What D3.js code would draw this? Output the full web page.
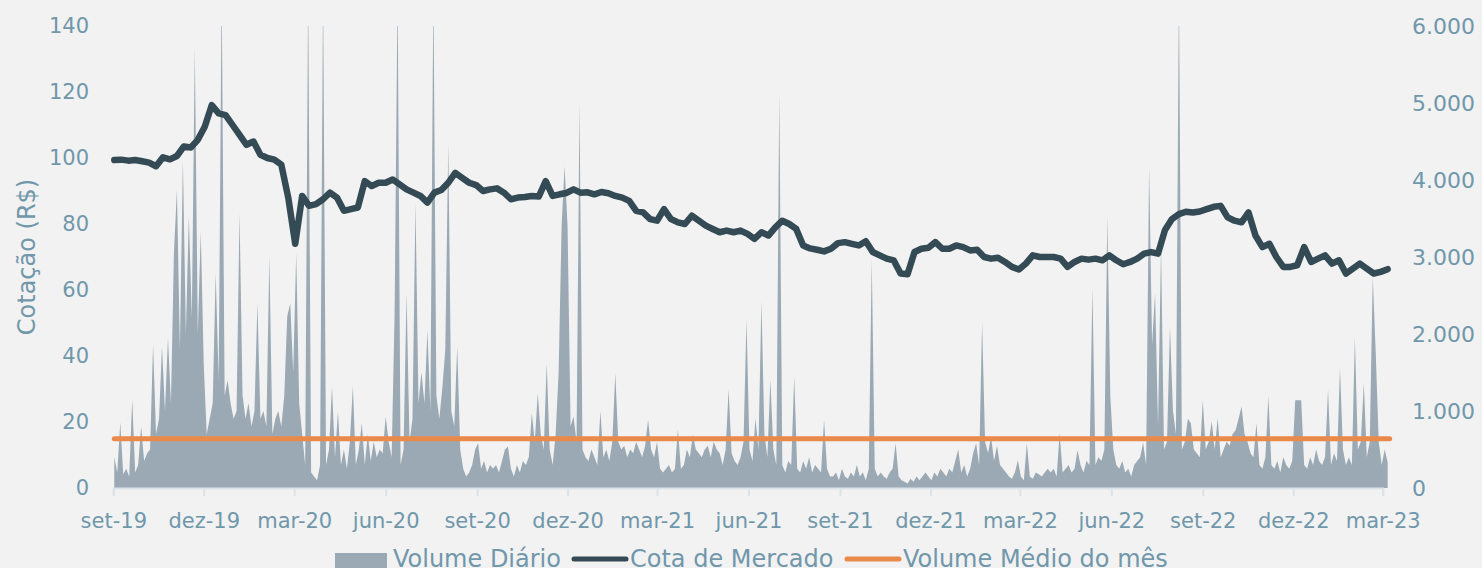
<!DOCTYPE html>
<html>
<head>
<meta charset="utf-8">
<script src="https://cdn.jsdelivr.net/npm/d3@7"></script>
<style>
  body { margin: 0; background: #f2f2f2; }
  svg { display: block; font-family: "DejaVu Sans", sans-serif; }
</style>
</head>
<body>
<div id="chart"></div>
<script>
// Cota de Mercado (R$), um valor por semana a partir de 02/09/2019
const cotaInicio = '2019-09-02';
const cota2019 = [99.4, 99.5, 99.2, 99.4, 99.0, 98.6, 97.5, 100.2, 99.6, 100.6, 103.5, 103.2, 105.5, 109.5, 116, 113.5, 113, 110];
const cota2020 = [107, 104, 105, 101, 100, 99.5, 98, 88, 74, 88.5, 85.5, 86, 87.5, 89.5, 88, 84, 84.5, 85, 93, 91.5,
  92.5, 92.5, 93.5, 92, 90.5, 89.5, 88.5, 86.5, 89.5, 90.3, 92.5, 95.5, 94, 92.5, 91.8, 90, 90.5, 90.8, 89.5, 87.5,
  88, 88.2, 88.5, 88.3, 93, 88.5, 89, 89.4, 90.5, 89.5, 89.6, 89];
const cota2021 = [89.7, 89.3, 88.5, 88, 87, 84, 83.5, 81.5, 81, 84.5, 81.5, 80.5, 80, 82.5, 81, 79.5, 78.5, 77.5, 78, 77.5,
  78, 77, 75.5, 77.5, 76.5, 79, 81, 80, 78.5, 73.5, 72.6, 72.2, 71.7, 72.5, 74.2, 74.5, 74, 73.5, 74.8, 71.5,
  70.5, 69.5, 69, 65, 64.8, 71.5, 72.5, 72.8, 74.5, 72.5, 72.5, 73.5];
const cota2022 = [73, 72, 72.2, 70, 69.5, 69.8, 68.5, 67, 66.2, 68, 70.5, 70, 70, 70, 69.5, 67, 68.5, 69.5, 69.2, 69.5,
  69, 70.5, 69, 67.8, 68.5, 69.5, 71, 71.5, 71, 78.2, 81.5, 83, 83.7, 83.5, 83.8, 84.5, 85.2, 85.5, 82, 81,
  80.5, 83.5, 76.5, 73, 74, 70, 67, 67, 67.5, 73, 68.5, 69.5];
const cota2023 = [70.5, 68, 69, 65, 66.5, 68, 66.5, 65, 65.5, 66.3];

// Volume Diário, um valor a cada 3 dias a partir de 02/09/2019
const volumeInicio = '2019-09-02';
const volumePasso = 3;
const volume2019 = [400, 200, 850, 180, 250, 150, 1150, 200, 300, 800,
  350, 450, 500, 1860, 700, 900, 1840, 1000, 1950, 1100,
  3050, 3875, 1800, 4265, 2000, 3530, 2200, 5715, 2000, 3330,
  1600, 700, 900, 1100, 2790, 1400, 6500, 1200, 1400, 1100,
  900];
const volume2020 = [1000, 3570, 1200, 900, 1100, 800, 1000, 2400, 900,
  1000, 800, 3010, 700, 900, 1000, 800, 1200, 2230, 2400,
  1500, 3050, 1100, 700, 300, 6500, 200, 150, 100, 300,
  6500, 300, 500, 1320, 400, 995, 300, 500, 250, 600,
  1320, 300, 500, 840, 300, 700, 350, 600, 400, 500,
  450, 930, 600, 400, 2270, 6500, 300, 500, 2530, 600,
  900, 3700, 1100, 1500, 1100, 2050, 1000, 6500, 1200, 900,
  1300, 1800, 4480, 1000, 800, 1840, 500, 250, 150, 200,
  300, 500, 580, 250, 350, 200, 300, 250, 300, 200,
  350, 500, 540, 250, 150, 300, 200, 350, 300, 400,
  970, 600, 1230, 700, 500, 1620, 500, 300, 700, 1500,
  3400, 4180, 3400, 800, 930, 600, 5000, 500, 400, 350,
  500, 400, 300];
const volume2021 = [1000, 400, 500, 350, 600, 1490, 600,
  500, 550, 400, 500, 450, 600, 500, 400, 550, 885,
  500, 400, 600, 250, 200, 250, 300, 200, 250, 755,
  250, 300, 500, 400, 690, 500, 450, 400, 500, 550,
  400, 600, 500, 450, 300, 500, 1280, 450, 350, 300,
  400, 600, 2190, 500, 350, 900, 500, 2425, 700, 400,
  1410, 500, 300, 5130, 300, 200, 350, 300, 1450, 250,
  200, 350, 250, 400, 200, 300, 250, 200, 885, 250,
  150, 150, 200, 100, 250, 150, 120, 200, 150, 300,
  150, 200, 100, 250, 2965, 250, 150, 200, 150, 120,
  200, 250, 580, 150, 100, 80, 60, 120, 80, 150,
  100, 150, 200, 150, 100, 200, 150, 250, 200, 150,
  250, 200, 350, 500];
const volume2022 = [200, 300, 150, 250, 450, 580,
  300, 2145, 600, 450, 670, 350, 550, 300, 250, 200,
  150, 120, 200, 360, 150, 100, 580, 150, 120, 200,
  180, 150, 200, 250, 200, 250, 150, 710, 200, 250,
  300, 200, 250, 490, 300, 200, 350, 300, 2600, 300,
  400, 350, 500, 3525, 1186, 500, 300, 250, 350, 200,
  250, 150, 300, 350, 400, 590, 300, 4170, 1870, 2525,
  800, 3130, 500, 600, 2090, 1000, 700, 6500, 500, 600,
  900, 840, 500, 450, 400, 1140, 500, 600, 865, 500,
  910, 400, 500, 600, 550, 700, 750, 900, 1060, 700,
  600, 450, 400, 840, 300, 250, 400, 1190, 300, 250,
  350, 200, 400, 300, 250, 350, 1140, 1140, 1140, 300,
  250, 400, 300, 500, 350, 300];
const volume2023 = [400, 1275, 300, 450,
  350, 1560, 500, 300, 400, 300, 1950, 500, 600, 1360,
  400, 600, 2750, 1750, 600, 300, 500, 330];

// Volume Médio do mês
const volumeMedioDatas = ['2019-09-02', '2023-03-08'];
const volumeMedioValores = [640, 640];

// eixos
const eixoEsqTicks = [0, 20, 40, 60, 80, 100, 120, 140];
const eixoDirTicks = [0, 1000, 2000, 3000, 4000, 5000, 6000];
const legendaNomes = ['Volume Diário', 'Cota de Mercado', 'Volume Médio do mês'];

const parse = d3.timeParse('%Y-%m-%d');
const ptBR = d3.timeFormatLocale({
  dateTime: '%d/%m/%Y %H:%M:%S', date: '%d/%m/%Y', time: '%H:%M:%S',
  periods: ['AM', 'PM'],
  days: ['domingo', 'segunda', 'terça', 'quarta', 'quinta', 'sexta', 'sábado'],
  shortDays: ['dom', 'seg', 'ter', 'qua', 'qui', 'sex', 'sáb'],
  months: ['janeiro', 'fevereiro', 'março', 'abril', 'maio', 'junho', 'julho', 'agosto', 'setembro', 'outubro', 'novembro', 'dezembro'],
  shortMonths: ['jan', 'fev', 'mar', 'abr', 'mai', 'jun', 'jul', 'ago', 'set', 'out', 'nov', 'dez']
});
const fmtMes = ptBR.format('%b-%y');
const fmtNum = d3.formatLocale({ decimal: ',', thousands: '.', grouping: [3], currency: ['R$', ''] }).format(',.0f');

// séries com datas
const cota = [].concat(cota2019, cota2020, cota2021, cota2022, cota2023)
  .map((v, i) => ({ date: d3.timeDay.offset(parse(cotaInicio), 7 * i), value: v }));
const volume = [].concat(volume2019, volume2020, volume2021, volume2022, volume2023)
  .map((v, i) => ({ date: d3.timeDay.offset(parse(volumeInicio), volumePasso * i), value: v }));
const volumeMedio = volumeMedioDatas.map((d, i) => ({ date: parse(d), value: volumeMedioValores[i] }));

// svg
const width = 1482;
const height = 568;
const textColor = '#7097aa';
const svg = d3.select('#chart')
  .append('svg')
  .attr('width', width)
  .attr('height', height);

svg.append('rect')
  .attr('width', width)
  .attr('height', height)
  .attr('fill', '#f2f2f2');

// scales
const plotTop = 26;
const plotBottom = 488;
const x = d3.scaleTime()
  .domain([parse('2019-09-01'), parse('2023-03-01')])
  .range([113.3, 1382.7]);
const yEsq = d3.scaleLinear().domain([0, 140]).range([plotBottom, plotTop]);
const yDir = d3.scaleLinear().domain([0, 6000]).range([plotBottom, plotTop]);

svg.append('clipPath')
  .attr('id', 'clip')
  .append('rect')
  .attr('x', 0)
  .attr('y', plotTop)
  .attr('width', width)
  .attr('height', plotBottom - plotTop);

// volume diário
const area = d3.area()
  .x(d => x(d.date))
  .y0(plotBottom)
  .y1(d => yDir(d.value));
svg.append('path')
  .datum(volume)
  .attr('clip-path', 'url(#clip)')
  .attr('fill', '#9aa9b3')
  .attr('d', area);

// eixo x: trimestral a partir de set-19
const ticksX = d3.timeMonth.range(parse('2019-09-01'), parse('2023-03-02'), 3);
const gx = svg.append('g')
  .attr('transform', `translate(0,${plotBottom})`)
  .call(d3.axisBottom(x).tickValues(ticksX).tickFormat(fmtMes).tickSize(8));
gx.select('.domain').attr('stroke', '#dbe3e9').attr('stroke-width', 2);
gx.selectAll('.tick line').attr('stroke', '#dbe3e9').attr('stroke-width', 2);
gx.selectAll('.tick text')
  .attr('y', 40)
  .attr('dy', 0)
  .attr('fill', textColor)
  .attr('font-size', 21)
  .attr('font-family', '"DejaVu Sans", sans-serif');

// eixo esquerdo
const gl = svg.append('g')
  .attr('transform', 'translate(89,0)')
  .call(d3.axisLeft(yEsq).tickValues(eixoEsqTicks).tickSize(0).tickPadding(0));
gl.select('.domain').remove();
gl.selectAll('.tick text')
  .attr('fill', textColor)
  .attr('font-size', 21)
  .attr('font-family', '"DejaVu Sans", sans-serif');

// eixo direito
const gr = svg.append('g')
  .attr('transform', 'translate(1412,0)')
  .call(d3.axisRight(yDir).tickValues(eixoDirTicks).tickFormat(fmtNum).tickSize(0).tickPadding(0));
gr.select('.domain').remove();
gr.selectAll('.tick text')
  .attr('fill', textColor)
  .attr('font-size', 22)
  .attr('font-family', '"DejaVu Sans", sans-serif');

// título do eixo
svg.append('text')
  .attr('transform', 'translate(35,257) rotate(-90)')
  .attr('text-anchor', 'middle')
  .attr('fill', textColor)
  .attr('font-size', 24)
  .text('Cotação (R$)');

// volume médio
svg.append('path')
  .datum(volumeMedio)
  .attr('fill', 'none')
  .attr('stroke', '#ea8a4a')
  .attr('stroke-width', 5)
  .attr('stroke-linecap', 'round')
  .attr('d', d3.line().x(d => x(d.date)).y(d => yDir(d.value)));

// cota de mercado
svg.append('path')
  .datum(cota)
  .attr('fill', 'none')
  .attr('stroke', '#344b56')
  .attr('stroke-width', 6.5)
  .attr('stroke-linejoin', 'round')
  .attr('stroke-linecap', 'round')
  .attr('d', d3.line().x(d => x(d.date)).y(d => yEsq(d.value)));

// legenda
const legenda = svg.append('g').attr('transform', 'translate(0,567)');
const itens = [
  { nome: legendaNomes[0], x: 335, tipo: 'rect', cor: '#9aa9b3' },
  { nome: legendaNomes[1], x: 572, tipo: 'line', cor: '#344b56' },
  { nome: legendaNomes[2], x: 845, tipo: 'line', cor: '#ea8a4a' }
];
itens.forEach(it => {
  if (it.tipo === 'rect') {
    legenda.append('rect')
      .attr('x', it.x).attr('y', -14).attr('width', 52).attr('height', 16)
      .attr('fill', it.cor);
  } else {
    legenda.append('line')
      .attr('x1', it.x + 2).attr('x2', it.x + 54).attr('y1', -8).attr('y2', -8)
      .attr('stroke', it.cor).attr('stroke-width', 5).attr('stroke-linecap', 'round');
  }
  legenda.append('text')
    .attr('x', it.x + 58)
    .attr('fill', textColor)
    .attr('font-size', 24)
    .text(it.nome);
});
</script>
</body>
</html>
